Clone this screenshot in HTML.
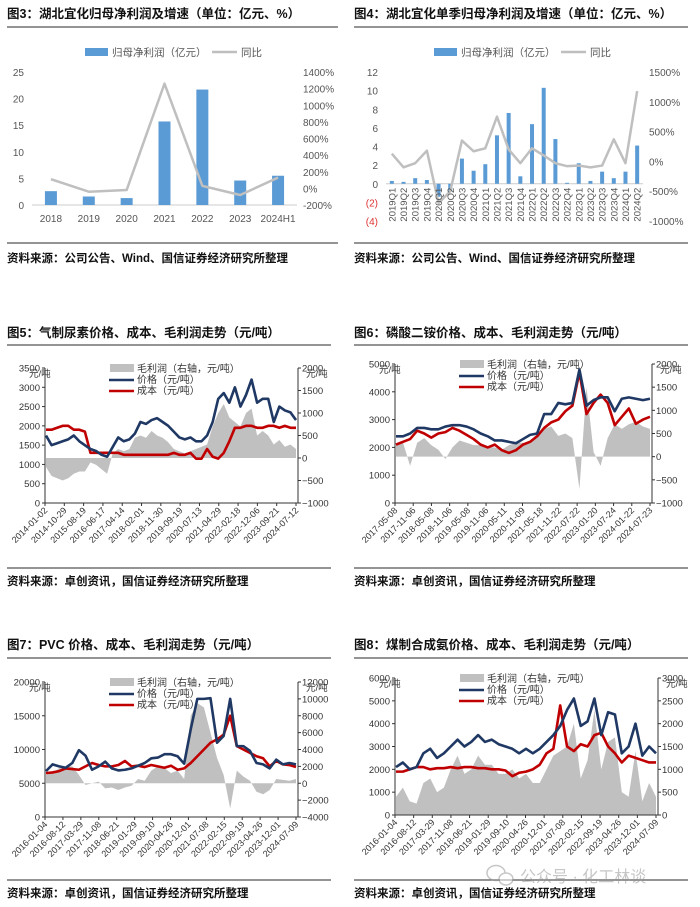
<!DOCTYPE html>
<html><head><meta charset="utf-8">
<style>
html,body{margin:0;padding:0;background:#fff;}
svg{display:block;font-family:"Liberation Sans","Noto Sans CJK SC",sans-serif;}
</style></head>
<body>
<svg id="root" width="700" height="907" viewBox="0 0 700 907" xmlns="http://www.w3.org/2000/svg"></svg>
<script>
// ---------- DATA ----------
const c3Cats = ["2018","2019","2020","2021","2022","2023","2024H1"];
const c3Profit = [2.6,1.6,1.3,15.7,21.7,4.6,5.5];
const c3Yoy = [110,-40,-20,1260,30,-80,130];
const c3LeftTicks = [0,5,10,15,20,25];
const c3RightTicks = [-200,0,200,400,600,800,1000,1200,1400];

const c4Cats = ["2019Q1","2019Q2","2019Q3","2019Q4","2020Q1","2020Q2","2020Q3","2020Q4","2021Q1","2021Q2","2021Q3","2021Q4","2022Q1","2022Q2","2022Q3","2022Q4","2023Q1","2023Q2","2023Q3","2023Q4","2024Q1","2024Q2"];
const c4Profit = [0.3,0.2,0.6,0.4,-1.4,-0.8,2.7,1.4,2.1,5.2,7.6,0.8,6.4,10.3,4.8,0.1,2.2,0.3,1.3,0.6,1.3,4.1];
const c4Yoy = [130,-100,-30,180,-700,-500,350,170,220,750,200,-30,220,100,-30,-80,-70,-100,-70,370,-30,1180];
const c4LeftTicks = [-4,-2,0,2,4,6,8,10,12];
const c4RightTicks = [-1000,-500,0,500,1000,1500];

const c5Dates = ["2014-01-02","2014-10-29","2015-08-19","2016-06-17","2017-04-14","2018-02-01","2018-11-30","2019-09-19","2020-07-13","2021-04-29","2022-02-18","2022-12-06","2023-09-21","2024-07-12"];
const c5Price = [1750,1500,1550,1600,1650,1750,1600,1500,1400,1350,1250,1200,1450,1700,1600,1650,1800,2100,2050,2150,2200,2100,2000,1850,1700,1650,1700,1600,1600,1750,2100,2700,2850,2600,3000,2500,2800,3200,2600,2700,2700,2100,2500,2400,2350,2150];
const c5Cost = [1900,1900,1950,2000,2000,1900,1900,1850,1300,1300,1300,1300,1300,1300,1250,1250,1250,1250,1250,1250,1250,1250,1250,1300,1250,1250,1300,1150,1150,1400,1200,1150,1300,1600,1950,1950,2000,2000,1950,1950,2000,2000,1950,2000,1950,1950];
const c5Margin = [-200,-400,-450,-500,-450,-350,-300,-300,-100,-150,-250,-350,100,200,150,200,450,500,450,600,500,450,350,200,150,100,150,200,250,300,700,1000,1200,900,800,700,1000,1100,500,600,500,300,400,250,300,200];
const c5LeftTicks = [0,500,1000,1500,2000,2500,3000,3500];
const c5RightTicks = [-1000,-500,0,500,1000,1500,2000];

const c6Dates = ["2017-05-08","2017-11-06","2018-05-08","2018-11-06","2019-05-08","2019-11-06","2020-05-11","2020-11-09","2021-05-18","2021-11-22","2022-07-22","2023-01-20","2023-07-24","2024-01-22","2024-07-23"];
const c6Price = [2400,2400,2500,2700,2700,2650,2650,2750,2800,2800,2750,2650,2500,2400,2250,2250,2200,2150,2300,2450,2500,3200,3200,3600,3550,3600,4800,3500,3700,3800,3800,3300,3750,3800,3750,3700,3750];
const c6Cost = [2100,2200,2300,2600,2500,2350,2500,2550,2700,2600,2450,2300,2100,2000,2100,1900,1800,1900,2100,2200,2400,2700,2900,3000,3300,3500,4700,3200,3600,3900,3600,2800,3100,3400,2850,3000,3100];
const c6Margin = [250,300,-200,300,400,250,150,-50,200,350,300,250,250,200,200,150,250,300,300,300,500,600,650,450,500,400,-700,1500,100,-200,400,700,600,700,750,650,600];
const c6LeftTicks = [0,1000,2000,3000,4000,5000];
const c6RightTicks = [-1000,-500,0,500,1000,1500,2000];

const c7Dates = ["2016-01-04","2016-08-12","2017-03-29","2017-11-08","2018-06-21","2019-01-29","2019-09-10","2020-04-26","2020-12-01","2021-07-08","2022-02-15","2022-09-19","2023-04-26","2023-12-01","2024-07-09"];
const c7Price = [6800,7800,7500,7300,8000,9900,9100,7000,7500,8200,7200,6900,7000,7200,7600,8000,8700,8800,9300,9300,9000,7900,13000,17500,17500,17600,11000,12000,17500,10500,10500,9800,8000,7800,7200,8500,7800,8000,7800];
const c7Cost = [6500,6600,6800,7200,7100,7000,7500,8000,7700,7500,7500,7700,8300,7500,7600,7400,7700,7500,7300,7600,7000,7200,8000,9000,10000,11000,11500,12200,15000,10500,10000,9500,9000,8700,7500,8300,7800,7700,7400];
const c7Margin = [1000,1200,1800,2000,2000,1000,-200,0,200,-600,-500,-800,-500,-300,500,300,1500,2000,1800,1200,1500,500,8000,9500,9000,6000,3000,1000,-3000,1500,800,300,-1000,-1300,-800,500,400,300,500];
const c7LeftTicks = [0,5000,10000,15000,20000];
const c7RightTicks = [-4000,-2000,0,2000,4000,6000,8000,10000,12000];

const c8Dates = ["2016-01-04","2016-08-12","2017-03-29","2017-11-08","2018-06-21","2019-01-29","2019-09-10","2020-04-26","2020-12-01","2021-07-08","2022-02-15","2022-09-19","2023-04-26","2023-12-01","2024-07-09"];
const c8Price = [2100,2300,2000,2100,2700,2900,2500,2700,3000,3300,3000,3200,3500,3200,3300,3100,3000,2900,2700,2900,2700,2900,3200,3500,3900,4600,5100,3900,4100,5100,3500,4500,4400,2700,3000,4000,2600,3000,2700];
const c8Cost = [1900,1900,2000,2100,2100,2000,2050,2050,2100,2050,2100,2100,2050,2050,2000,2000,1950,1700,1850,1900,2000,2200,2700,2900,4800,3000,2800,3100,3000,3500,3600,3000,2700,2300,2600,2500,2400,2300,2300];
const c8Margin = [400,600,300,250,700,800,500,600,1000,1300,900,1000,1300,1100,1100,900,900,1000,800,900,700,700,1000,1300,1400,1500,2000,800,1200,2300,1000,1600,1700,500,400,1400,300,700,400];
const c8LeftTicks = [0,1000,2000,3000,4000,5000,6000];
const c8RightTicks = [0,500,1000,1500,2000,2500,3000];

// ---------- HELPERS ----------
const NS = "http://www.w3.org/2000/svg";
const root = document.getElementById("root");
function mk(tag, attrs, parent, text) {
  const e = document.createElementNS(NS, tag);
  for (const k in attrs) e.setAttribute(k, attrs[k]);
  if (text !== undefined) e.textContent = text;
  (parent || root).appendChild(e);
  return e;
}
function scale(d0, d1, r0, r1) { return v => r0 + (v - d0) / (d1 - d0) * (r1 - r0); }

function header(x, y, w, title, srcY, ruleY, botY) {
  let t = mk("text", {x: x, y: y, "font-size": 12.5, "font-weight": "bold", fill: "#111"}, root, title);
  
  
  let r = mk("line", {x1: x, x2: x + w, y1: ruleY, y2: ruleY, stroke: "#555", "stroke-width": 1.3});
  
  
  let b = mk("line", {x1: x, x2: x + w, y1: botY, y2: botY, stroke: "#555", "stroke-width": 1.3});
  
  
  return srcY;
}
function source(x, y, txt) {
  let s = mk("text", {x: x, y: y, "font-size": 11.5, "font-weight": "bold", fill: "#111"}, root, txt);
  
  
}

// ---------- BAR + LINE CHARTS ----------
function barChart(cfg) {
  const g = mk("g", {});
  
  
  const yl = scale(cfg.lmin, cfg.lmax, cfg.yb, cfg.yt);
  const yr = scale(cfg.rmin, cfg.rmax, cfg.yb, cfg.yt);
  const n = cfg.cats.length;
  const xc = i => cfg.x0 + (i + 0.5) * (cfg.x1 - cfg.x0) / n;
  cfg.lt.forEach(v => {
    const neg = v < 0;
    const t = mk("text", {x: cfg.x0 - 8, y: yl(v) + 4, "font-size": 10, "text-anchor": "end", fill: neg ? "#d33" : "#555"}, g, neg ? "(" + (-v) + ")" : String(v));
    
    
  });
  cfg.rt.forEach(v => {
    const t = mk("text", {x: cfg.x1 + 6, y: yr(v) + 4, "font-size": 10, fill: "#555"}, g, v + "%");
    
    
  });
  const ax = mk("line", {x1: cfg.x0, x2: cfg.x1, y1: yl(0), y2: yl(0), stroke: "#ccc", "stroke-width": 1}, g);
  
  
  cfg.vals.forEach((v, i) => {
    const y0 = yl(0), y1 = yl(v);
    const r = mk("rect", {x: xc(i) - cfg.bw / 2, y: Math.min(y0, y1), width: cfg.bw, height: Math.abs(y1 - y0), fill: "#5b9bd5"}, g);
    
    
  });
  const pts = cfg.yoy.map((v, i) => xc(i) + "," + yr(v)).join(" ");
  const pl = mk("polyline", {points: pts, fill: "none", stroke: "#bfbfbf", "stroke-width": 2.5, "stroke-linejoin": "round"}, g);
  
  
  cfg.cats.forEach((c, i) => {
    let t;
    if (cfg.rot) {
      t = mk("text", {x: 0, y: 0, "font-size": 9.5, "text-anchor": "end", fill: "#555", transform: "translate(" + (xc(i) + 3.5) + "," + (yl(0) + 4) + ") rotate(-90)"}, g, c);
    } else {
      t = mk("text", {x: xc(i), y: yl(0) + 17, "font-size": 10, "text-anchor": "middle", fill: "#555"}, g, c);
    }
    
    
  });
  const lg = mk("g", {}, g);
  
  
  const sw = mk("rect", {x: cfg.lx, y: cfg.ly - 4, width: 23, height: 8, fill: "#5b9bd5"}, lg);
  
  
  const l1 = mk("text", {x: cfg.lx + 27, y: cfg.ly + 4, "font-size": 10.5, fill: "#555"}, lg, "归母净利润（亿元）");
  
  
  const sl = mk("line", {x1: cfg.lx + 127, x2: cfg.lx + 152, y1: cfg.ly, y2: cfg.ly, stroke: "#bfbfbf", "stroke-width": 2.5}, lg);
  
  
  const l2 = mk("text", {x: cfg.lx + 156, y: cfg.ly + 4, "font-size": 10.5, fill: "#555"}, lg, "同比");
  
  
}

header(7, 18, 331, "图3：湖北宜化归母净利润及增速（单位：亿元、%）", 0, 27, 243);
source(7, 262, "资料来源：公司公告、Wind、国信证券经济研究所整理");
barChart({name: "chart-annual-profit", cats: c3Cats, vals: c3Profit, yoy: c3Yoy, lt: c3LeftTicks, rt: c3RightTicks,
  x0: 32, x1: 297, yt: 72, yb: 205, lmin: 0, lmax: 25, rmin: -200, rmax: 1400, bw: 12, lx: 85, ly: 52});

header(354, 18, 334, "图4：湖北宜化单季归母净利润及增速（单位：亿元、%）", 0, 27, 243);
source(354, 262, "资料来源：公司公告、Wind、国信证券经济研究所整理");
barChart({name: "chart-quarterly-profit", cats: c4Cats, vals: c4Profit, yoy: c4Yoy, lt: c4LeftTicks, rt: c4RightTicks,
  x0: 386, x1: 643, yt: 72, yb: 221, lmin: -4, lmax: 12, rmin: -1000, rmax: 1500, bw: 4, lx: 434, ly: 52, rot: true});

// ---------- TIME SERIES CHARTS ----------
function tsChart(cfg) {
  const g = mk("g", {});
  
  
  const yl = scale(cfg.lmin, cfg.lmax, cfg.yb, cfg.yt);
  const yr = scale(cfg.rmin, cfg.rmax, cfg.yb, cfg.yt);
  const xf = (i, n) => cfg.x0 + 1 + i / (n - 1) * (cfg.xe - cfg.x0 - 1);
  const m = cfg.margin, z = yr(0);
  let d = "M" + xf(0, m.length) + "," + z;
  m.forEach((v, i) => { d += " L" + xf(i, m.length) + "," + yr(v); });
  d += " L" + xf(m.length - 1, m.length) + "," + z + " Z";
  const a = mk("path", {d: d, fill: "#c0c0c0", stroke: "none"}, g);
  
  
  const cl = mk("polyline", {points: cfg.cost.map((v, i) => xf(i, cfg.cost.length) + "," + yl(v)).join(" "), fill: "none", stroke: "#c00000", "stroke-width": 2.6, "stroke-linejoin": "round"}, g);
  
  
  const pl = mk("polyline", {points: cfg.price.map((v, i) => xf(i, cfg.price.length) + "," + yl(v)).join(" "), fill: "none", stroke: "#1f3864", "stroke-width": 2.6, "stroke-linejoin": "round"}, g);
  
  
  const la = mk("line", {x1: cfg.x0, x2: cfg.x0, y1: cfg.yt, y2: cfg.yb, stroke: "#333", "stroke-width": 1}, g);
  
  
  const ra = mk("line", {x1: cfg.x1, x2: cfg.x1, y1: cfg.yt, y2: cfg.yb, stroke: "#333", "stroke-width": 1}, g);
  
  
  const ba = mk("line", {x1: cfg.x0, x2: cfg.x1, y1: cfg.yb, y2: cfg.yb, stroke: "#333", "stroke-width": 1}, g);
  
  
  cfg.lt.forEach(v => {
    mk("line", {x1: cfg.x0 - 3, x2: cfg.x0, y1: yl(v), y2: yl(v), stroke: "#333"}, g);
    const t = mk("text", {x: cfg.x0 - 5, y: yl(v) + 3.5, "font-size": 9.5, "text-anchor": "end", fill: "#333"}, g, String(v));
    
    
  });
  cfg.rt.forEach(v => {
    mk("line", {x1: cfg.x1, x2: cfg.x1 + 3, y1: yr(v), y2: yr(v), stroke: "#333"}, g);
    const t = mk("text", {x: cfg.x1 + 4, y: yr(v) + 3.5, "font-size": 9.5, fill: "#333"}, g, v < 0 ? "−" + (-v) : String(v));
    
    
  });
  const u1 = mk("text", {x: cfg.x0 - 16, y: cfg.yt + 9, "font-size": 9.5, fill: "#333"}, g, "元/吨");
  
  
  const u2 = mk("text", {x: cfg.x1 + 8, y: cfg.yt + 9, "font-size": 9.5, fill: "#333"}, g, "元/吨");
  
  
  const nd = cfg.dates.length;
  cfg.dates.forEach((s, i) => {
    const x = cfg.x0 + i / (nd - 1) * (cfg.xe - cfg.x0);
    mk("line", {x1: x, x2: x, y1: cfg.yb, y2: cfg.yb + 3, stroke: "#333"}, g);
    const t = mk("text", {x: 0, y: 0, "font-size": 9, "text-anchor": "end", fill: "#333", transform: "translate(" + (x + 3) + "," + (cfg.yb + 8) + ") rotate(-45)"}, g, s);
    
    
  });
  const lx = cfg.x0 + 65, ly = cfg.yt + 1;
  const lg = mk("g", {}, g);
  
  
  const s1 = mk("rect", {x: lx, y: ly - 5, width: 24, height: 8, fill: "#c0c0c0"}, lg);
  
  
  const t1 = mk("text", {x: lx + 27, y: ly + 3, "font-size": 10, fill: "#333"}, lg, "毛利润（右轴，元/吨）");
  
  
  const s2 = mk("line", {x1: lx - 1, x2: lx + 24, y1: ly + 11, y2: ly + 11, stroke: "#1f3864", "stroke-width": 2.5}, lg);
  
  
  const t2 = mk("text", {x: lx + 27, y: ly + 14, "font-size": 10, fill: "#333"}, lg, "价格（元/吨）");
  
  
  const s3 = mk("line", {x1: lx - 1, x2: lx + 24, y1: ly + 22, y2: ly + 22, stroke: "#c00000", "stroke-width": 2.5}, lg);
  
  
  const t3 = mk("text", {x: lx + 27, y: ly + 25, "font-size": 10, fill: "#333"}, lg, "成本（元/吨）");
  
  
}

header(7, 337, 324, "图5：气制尿素价格、成本、毛利润走势（元/吨）", 0, 345, 568);
source(7, 585, "资料来源：卓创资讯，国信证券经济研究所整理");
tsChart({name: "chart-urea", dates: c5Dates, price: c5Price, cost: c5Cost, margin: c5Margin, lt: c5LeftTicks, rt: c5RightTicks,
  x0: 45, x1: 298, xe: 296, yt: 368, yb: 503, lmin: 0, lmax: 3500, rmin: -1000, rmax: 2000});

header(354, 337, 334, "图6：磷酸二铵价格、成本、毛利润走势（元/吨）", 0, 345, 568);
source(354, 585, "资料来源：卓创资讯，国信证券经济研究所整理");
tsChart({name: "chart-dap", dates: c6Dates, price: c6Price, cost: c6Cost, margin: c6Margin, lt: c6LeftTicks, rt: c6RightTicks,
  x0: 395, x1: 652, xe: 650, yt: 364, yb: 503, lmin: 0, lmax: 5000, rmin: -1000, rmax: 2000});

header(7, 649, 324, "图7：PVC 价格、成本、毛利润走势（元/吨）", 0, 658, 880);
source(7, 897, "资料来源：卓创资讯，国信证券经济研究所整理");
tsChart({name: "chart-pvc", dates: c7Dates, price: c7Price, cost: c7Cost, margin: c7Margin, lt: c7LeftTicks, rt: c7RightTicks,
  x0: 45, x1: 298, xe: 296, yt: 682, yb: 817, lmin: 0, lmax: 20000, rmin: -4000, rmax: 12000});

header(354, 649, 334, "图8：煤制合成氨价格、成本、毛利润走势（元/吨）", 0, 658, 880);
source(354, 897, "资料来源：卓创资讯，国信证券经济研究所整理");
tsChart({name: "chart-ammonia", dates: c8Dates, price: c8Price, cost: c8Cost, margin: c8Margin, lt: c8LeftTicks, rt: c8RightTicks,
  x0: 395, x1: 658, xe: 656, yt: 678, yb: 815, lmin: 0, lmax: 6000, rmin: 0, rmax: 3000});

const wm = mk("g", {opacity: 0.55});


mk("ellipse", {cx: 496, cy: 873, rx: 9, ry: 7.5, fill: "none", stroke: "#999", "stroke-width": 1.5}, wm);
mk("ellipse", {cx: 506, cy: 879, rx: 7, ry: 6, fill: "#fff", stroke: "#999", "stroke-width": 1.5}, wm);
const wt = mk("text", {x: 520, y: 882, "font-size": 16, fill: "#999"}, wm, "公众号 · 化工林谈");


</script>
</body></html>
